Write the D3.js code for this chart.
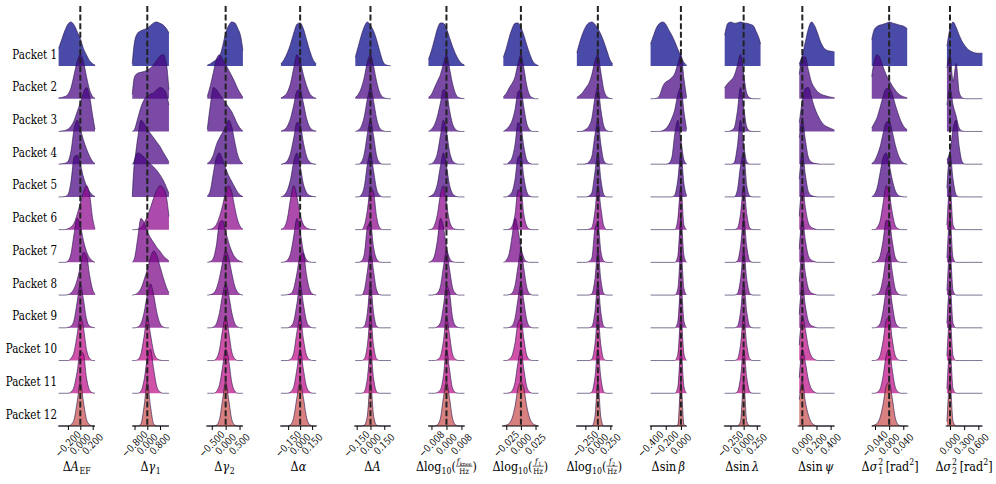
<!DOCTYPE html>
<html>
<head>
<meta charset="utf-8">
<script src="https://cdn.jsdelivr.net/npm/d3@7"></script>
<style>
  body { margin: 0; background: #fff; }
</style>
</head>
<body>
<script>
// ---- data -------------------------------------------------------------
const packets = d3.range(1, 13).map(i => `Packet ${i}`);

// observed colour of each packet (as seen over white)
const packetColors = ["#4a4aa8", "#7a4aa4", "#7a4aa4", "#7a4aa4", "#7a4aa4", "#ac4cac",
                      "#9c48a8", "#a04aa8", "#a44aa8", "#d052a8", "#d052a8", "#d88080"];

// x-domain shown by each small axis
const domains = [[-0.355, 0.237], [-0.945, 1.361], [-0.70, 0.621], [-0.25, 0.209],
                 [-0.178, 0.221], [-0.00981, 0.00976], [-0.0323, 0.0304], [-0.438, 0.296],
                 [-0.409, 0.075], [-0.376, 0.321], [-0.064, 0.455], [-0.0492, 0.0546], [-0.091, 0.686]];

// density sample grid: [step, points left of 0, points right of 0]
const grids = [[0.05, 7, 5], [0.2, 5, 7], [0.11, 6, 6], [0.04, 6, 5], [0.033, 5, 7],
               [0.0016, 6, 6], [0.005, 6, 6], [0.06, 7, 5], [0.04, 10, 2], [0.06, 6, 6],
               [0.043, 1, 11], [0.0085, 6, 6], [0.065, 1, 11]];

const tickValues = [[-0.2, 0, 0.2], [-0.8, 0, 0.8], [-0.5, 0, 0.5], [-0.15, 0, 0.15],
                    [-0.15, 0, 0.15], [-0.008, 0, 0.008], [-0.025, 0, 0.025], [-0.25, 0, 0.25],
                    [-0.4, -0.2, 0], [-0.25, 0, 0.25], [0, 0.2, 0.4], [-0.04, 0, 0.04], [0, 0.3, 0.6]];

// relative density (peak = 100) per packet, sampled on the grid of each column
const densAEF = [
  [40, 60, 80, 95, 100, 93, 78, 62, 40, 25, 12, 5, 2],
  [2, 3, 5, 10, 25, 55, 85, 100, 85, 50, 20, 5, 1],
  [0, 1, 2, 5, 12, 25, 45, 65, 88, 100, 80, 35, 5],
  [0, 1, 2, 6, 30, 80, 100, 80, 55, 35, 18, 6, 1],
  [0, 0, 1, 5, 35, 90, 95, 75, 45, 25, 12, 4, 1],
  [0, 0, 0, 2, 6, 15, 35, 60, 85, 100, 80, 25, 2],
  [0, 0, 0, 3, 20, 65, 100, 85, 50, 25, 10, 3, 0],
  [0, 0, 0, 1, 5, 15, 35, 65, 97, 90, 45, 12, 2],
  [0, 0, 0, 1, 4, 18, 60, 100, 65, 20, 4, 1, 0],
  [0, 0, 0, 0, 5, 20, 60, 100, 75, 25, 5, 0, 0],
  [0, 0, 0, 0, 3, 15, 50, 95, 90, 35, 7, 1, 0],
  [0, 0, 0, 0, 3, 15, 55, 100, 55, 15, 3, 0, 0]
];
const densGamma1 = [
  [5, 55, 75, 80, 83, 86, 92, 98, 100, 97, 93, 85, 75],
  [10, 50, 58, 60, 62, 65, 70, 78, 88, 97, 100, 80, 20],
  [0, 5, 30, 55, 72, 80, 85, 88, 95, 100, 97, 85, 60],
  [0, 10, 60, 100, 92, 80, 70, 60, 50, 40, 27, 15, 5],
  [0, 80, 100, 97, 90, 82, 75, 68, 60, 50, 38, 22, 8],
  [0, 0, 1, 5, 15, 30, 50, 72, 90, 100, 95, 75, 30],
  [0, 10, 55, 100, 90, 70, 56, 45, 34, 25, 15, 8, 3],
  [0, 1, 5, 15, 35, 58, 85, 100, 90, 65, 40, 18, 5],
  [0, 0, 2, 10, 35, 75, 100, 75, 35, 10, 2, 0, 0],
  [0, 0, 2, 15, 55, 100, 60, 20, 5, 1, 0, 0, 0],
  [0, 0, 0, 5, 30, 80, 100, 55, 15, 3, 0, 0, 0],
  [0, 0, 0, 5, 45, 100, 45, 5, 0, 0, 0, 0, 0]
];
const densGamma2 = [
  [2, 5, 10, 15, 22, 45, 75, 92, 100, 98, 85, 65, 35],
  [5, 30, 60, 90, 100, 90, 78, 65, 52, 38, 22, 10, 3],
  [5, 60, 100, 95, 85, 75, 65, 55, 45, 30, 15, 5, 1],
  [2, 8, 22, 45, 60, 72, 85, 100, 85, 50, 20, 5, 1],
  [2, 15, 55, 90, 100, 85, 65, 48, 35, 22, 10, 3, 1],
  [0, 1, 4, 12, 30, 55, 85, 100, 85, 50, 20, 5, 1],
  [0, 2, 10, 40, 90, 95, 70, 45, 25, 12, 5, 2, 0],
  [0, 1, 4, 15, 40, 75, 100, 85, 50, 20, 6, 1, 0],
  [0, 0, 2, 10, 35, 75, 100, 75, 35, 10, 2, 0, 0],
  [0, 0, 0, 5, 25, 70, 100, 65, 20, 4, 0, 0, 0],
  [0, 0, 0, 4, 20, 60, 100, 75, 25, 5, 0, 0, 0],
  [0, 0, 0, 2, 15, 60, 100, 60, 15, 2, 0, 0, 0]
];
const densAlpha = [
  [5, 15, 30, 50, 75, 95, 98, 85, 60, 35, 15, 5],
  [2, 6, 15, 35, 70, 100, 85, 55, 30, 12, 4, 1],
  [1, 4, 12, 30, 60, 92, 95, 65, 30, 10, 3, 1],
  [0, 2, 8, 25, 60, 95, 90, 50, 18, 5, 1, 0],
  [0, 4, 15, 40, 80, 100, 70, 30, 10, 3, 1, 0],
  [1, 5, 25, 70, 100, 75, 35, 12, 4, 1, 0, 0],
  [0, 1, 5, 20, 60, 100, 70, 25, 6, 1, 0, 0],
  [0, 0, 1, 3, 15, 50, 90, 95, 45, 12, 2, 0],
  [0, 0, 0, 3, 15, 55, 100, 55, 15, 3, 0, 0],
  [0, 0, 0, 3, 18, 65, 100, 50, 12, 2, 0, 0],
  [0, 0, 0, 3, 15, 55, 100, 55, 15, 3, 0, 0],
  [0, 0, 0, 3, 20, 65, 100, 65, 20, 3, 0, 0]
];
const densA = [
  [20, 45, 70, 90, 100, 92, 80, 60, 35, 12, 3, 1, 0],
  [3, 10, 25, 50, 85, 100, 75, 40, 15, 4, 1, 0, 0],
  [0, 3, 12, 35, 75, 100, 70, 30, 8, 2, 0, 0, 0],
  [0, 0, 5, 25, 70, 100, 65, 20, 4, 0, 0, 0, 0],
  [0, 0, 5, 25, 75, 100, 60, 18, 4, 0, 0, 0, 0],
  [0, 0, 0, 10, 45, 95, 85, 30, 5, 0, 0, 0, 0],
  [0, 0, 3, 20, 80, 90, 35, 8, 1, 0, 0, 0, 0],
  [0, 0, 0, 12, 55, 100, 55, 12, 1, 0, 0, 0, 0],
  [0, 0, 0, 4, 35, 100, 35, 4, 0, 0, 0, 0, 0],
  [0, 0, 0, 4, 35, 100, 35, 4, 0, 0, 0, 0, 0],
  [0, 0, 0, 4, 35, 100, 35, 4, 0, 0, 0, 0, 0],
  [0, 0, 0, 2, 25, 100, 25, 2, 0, 0, 0, 0, 0]
];
const densFknee = [
  [15, 35, 60, 85, 98, 97, 85, 65, 45, 28, 15, 6, 2],
  [3, 10, 25, 40, 55, 80, 100, 70, 35, 12, 3, 1, 0],
  [0, 5, 15, 35, 65, 95, 90, 50, 18, 5, 1, 0, 0],
  [0, 1, 8, 25, 65, 100, 75, 30, 8, 2, 0, 0, 0],
  [0, 3, 10, 30, 70, 100, 70, 28, 8, 2, 0, 0, 0],
  [0, 1, 10, 35, 80, 100, 60, 20, 5, 1, 0, 0, 0],
  [0, 3, 15, 50, 100, 80, 35, 10, 2, 0, 0, 0, 0],
  [0, 0, 1, 5, 20, 65, 100, 60, 18, 4, 0, 0, 0],
  [0, 0, 0, 3, 12, 50, 95, 80, 25, 5, 1, 0, 0],
  [0, 0, 0, 2, 10, 45, 100, 60, 15, 3, 0, 0, 0],
  [0, 0, 0, 2, 8, 40, 100, 55, 12, 2, 0, 0, 0],
  [0, 0, 0, 3, 18, 65, 100, 65, 18, 3, 0, 0, 0]
];
const densF1 = [
  [20, 40, 65, 85, 97, 98, 88, 70, 48, 28, 12, 4, 1],
  [5, 12, 25, 35, 50, 80, 100, 70, 30, 8, 2, 0, 0],
  [0, 5, 12, 25, 50, 90, 95, 55, 18, 4, 0, 0, 0],
  [0, 0, 5, 15, 45, 95, 85, 40, 10, 2, 0, 0, 0],
  [0, 0, 4, 12, 40, 90, 95, 45, 12, 2, 0, 0, 0],
  [0, 0, 1, 8, 35, 90, 90, 35, 8, 1, 0, 0, 0],
  [0, 5, 20, 60, 100, 75, 35, 10, 2, 0, 0, 0, 0],
  [0, 0, 1, 5, 22, 65, 100, 60, 18, 3, 0, 0, 0],
  [0, 0, 1, 5, 22, 65, 100, 60, 18, 3, 0, 0, 0],
  [0, 0, 3, 12, 40, 85, 95, 50, 12, 2, 0, 0, 0],
  [0, 0, 1, 6, 25, 70, 100, 55, 15, 3, 0, 0, 0],
  [0, 2, 6, 18, 45, 85, 100, 85, 45, 18, 6, 2, 0]
];
const densF2 = [
  [30, 55, 75, 90, 98, 100, 95, 85, 72, 55, 35, 15, 5],
  [3, 8, 15, 25, 35, 55, 85, 100, 60, 20, 5, 1, 0],
  [0, 0, 1, 5, 12, 30, 75, 100, 50, 12, 2, 0, 0],
  [0, 0, 0, 1, 5, 18, 65, 100, 45, 8, 1, 0, 0],
  [0, 0, 0, 0, 2, 10, 55, 100, 40, 5, 0, 0, 0],
  [0, 0, 0, 0, 1, 5, 40, 100, 50, 8, 0, 0, 0],
  [0, 0, 0, 0, 2, 10, 75, 90, 25, 3, 0, 0, 0],
  [0, 0, 0, 0, 0, 3, 35, 100, 35, 3, 0, 0, 0],
  [0, 0, 0, 0, 0, 3, 35, 100, 35, 3, 0, 0, 0],
  [0, 0, 0, 0, 0, 3, 35, 100, 35, 3, 0, 0, 0],
  [0, 0, 0, 0, 0, 3, 35, 100, 35, 3, 0, 0, 0],
  [0, 0, 0, 0, 0, 0, 20, 100, 20, 0, 0, 0, 0]
];
const densSinBeta = [
  [50, 70, 88, 97, 100, 95, 82, 70, 55, 38, 22, 8, 2],
  [0, 0, 1, 8, 28, 38, 42, 48, 58, 80, 100, 45, 3],
  [0, 0, 0, 0, 2, 6, 15, 30, 50, 85, 100, 45, 5],
  [0, 0, 0, 0, 0, 0, 2, 15, 70, 100, 55, 10, 1],
  [0, 0, 0, 0, 0, 0, 0, 0, 5, 40, 100, 30, 2],
  [0, 0, 0, 0, 0, 0, 0, 0, 0, 25, 100, 10, 0],
  [0, 0, 0, 0, 0, 0, 0, 0, 0, 15, 100, 15, 0],
  [0, 0, 0, 0, 0, 0, 0, 0, 0, 15, 100, 15, 0],
  [0, 0, 0, 0, 0, 0, 0, 0, 0, 15, 100, 15, 0],
  [0, 0, 0, 0, 0, 0, 0, 0, 0, 15, 100, 15, 0],
  [0, 0, 0, 0, 0, 0, 0, 0, 0, 15, 100, 15, 0],
  [0, 0, 0, 0, 0, 0, 0, 0, 0, 3, 100, 3, 0]
];
const densSinLambda = [
  [70, 97, 100, 97, 98, 100, 98, 97, 95, 92, 78, 60, 50],
  [25, 35, 42, 52, 75, 100, 55, 12, 2, 0, 0, 0, 0],
  [0, 0, 2, 8, 45, 100, 55, 10, 1, 0, 0, 0, 0],
  [0, 0, 0, 3, 40, 100, 45, 5, 0, 0, 0, 0, 0],
  [0, 0, 0, 0, 15, 70, 100, 25, 2, 0, 0, 0, 0],
  [0, 0, 0, 0, 3, 35, 100, 35, 3, 0, 0, 0, 0],
  [0, 0, 0, 0, 3, 35, 100, 35, 3, 0, 0, 0, 0],
  [0, 0, 0, 0, 3, 35, 100, 35, 3, 0, 0, 0, 0],
  [0, 0, 0, 0, 3, 35, 100, 35, 3, 0, 0, 0, 0],
  [0, 0, 0, 0, 3, 35, 100, 35, 3, 0, 0, 0, 0],
  [0, 0, 0, 0, 3, 35, 100, 35, 3, 0, 0, 0, 0],
  [0, 0, 0, 0, 0, 10, 100, 10, 0, 0, 0, 0, 0]
];
const densSinPsi = [
  [5, 25, 55, 85, 100, 92, 75, 55, 42, 36, 34, 33, 32],
  [55, 95, 95, 65, 38, 25, 16, 11, 8, 6, 4, 3, 2],
  [20, 70, 98, 100, 78, 55, 38, 25, 16, 11, 8, 5, 3],
  [60, 100, 55, 15, 5, 2, 1, 0, 0, 0, 0, 0, 0],
  [40, 100, 50, 12, 3, 1, 0, 0, 0, 0, 0, 0, 0],
  [30, 100, 50, 15, 5, 2, 0, 0, 0, 0, 0, 0, 0],
  [30, 100, 50, 15, 5, 2, 0, 0, 0, 0, 0, 0, 0],
  [30, 100, 50, 15, 5, 2, 0, 0, 0, 0, 0, 0, 0],
  [30, 100, 50, 15, 5, 2, 0, 0, 0, 0, 0, 0, 0],
  [35, 100, 70, 30, 10, 3, 0, 0, 0, 0, 0, 0, 0],
  [35, 100, 70, 30, 10, 3, 0, 0, 0, 0, 0, 0, 0],
  [60, 100, 55, 25, 8, 2, 0, 0, 0, 0, 0, 0, 0]
];
const densSigma1 = [
  [60, 82, 90, 93, 95, 97, 100, 98, 96, 94, 92, 90, 85],
  [50, 85, 100, 92, 72, 55, 42, 30, 20, 12, 7, 4, 2],
  [8, 18, 32, 55, 80, 97, 98, 85, 62, 40, 22, 10, 4],
  [2, 6, 20, 40, 70, 95, 98, 75, 45, 22, 8, 2, 0],
  [0, 5, 20, 55, 90, 100, 75, 40, 15, 4, 1, 0, 0],
  [0, 0, 5, 20, 60, 100, 85, 40, 10, 2, 0, 0, 0],
  [0, 0, 3, 15, 50, 95, 95, 50, 12, 2, 0, 0, 0],
  [0, 0, 2, 10, 40, 85, 100, 55, 15, 3, 0, 0, 0],
  [0, 0, 2, 10, 40, 85, 100, 55, 15, 3, 0, 0, 0],
  [0, 0, 2, 12, 45, 90, 100, 50, 12, 2, 0, 0, 0],
  [0, 0, 2, 10, 40, 85, 100, 55, 15, 3, 0, 0, 0],
  [0, 2, 6, 20, 50, 90, 100, 65, 20, 3, 0, 0, 0]
];
const densSigma2 = [
  [45, 85, 100, 88, 70, 55, 45, 37, 33, 30, 29, 29, 29],
  [70, 100, 40, 80, 15, 2, 0, 0, 0, 0, 0, 0, 0],
  [60, 100, 60, 35, 8, 1, 0, 0, 0, 0, 0, 0, 0],
  [10, 30, 80, 100, 40, 5, 0, 0, 0, 0, 0, 0, 0],
  [20, 100, 40, 5, 0, 0, 0, 0, 0, 0, 0, 0, 0],
  [10, 100, 10, 0, 0, 0, 0, 0, 0, 0, 0, 0, 0],
  [10, 100, 10, 0, 0, 0, 0, 0, 0, 0, 0, 0, 0],
  [10, 100, 10, 0, 0, 0, 0, 0, 0, 0, 0, 0, 0],
  [10, 100, 10, 0, 0, 0, 0, 0, 0, 0, 0, 0, 0],
  [10, 100, 10, 0, 0, 0, 0, 0, 0, 0, 0, 0, 0],
  [10, 100, 10, 0, 0, 0, 0, 0, 0, 0, 0, 0, 0],
  [10, 100, 10, 0, 0, 0, 0, 0, 0, 0, 0, 0, 0]
];

// axis labels, as runs of text: i = italic, sub / sup = index, frac = [num, den]
const paramLabels = [
  [{t: "Δ"}, {t: "A", i: 1}, {t: "EF", sub: 1}],
  [{t: "Δ"}, {t: "γ", i: 1}, {t: "1", sub: 1}],
  [{t: "Δ"}, {t: "γ", i: 1}, {t: "2", sub: 1}],
  [{t: "Δ"}, {t: "α", i: 1}],
  [{t: "Δ"}, {t: "A", i: 1}],
  [{t: "Δlog"}, {t: "10", sub: 1}, {t: "("}, {frac: [[{t: "f", i: 1}, {t: "knee", sub: 1}], [{t: "Hz"}]]}, {t: ")"}],
  [{t: "Δlog"}, {t: "10", sub: 1}, {t: "("}, {frac: [[{t: "f", i: 1}, {t: "1", sub: 1}], [{t: "Hz"}]]}, {t: ")"}],
  [{t: "Δlog"}, {t: "10", sub: 1}, {t: "("}, {frac: [[{t: "f", i: 1}, {t: "2", sub: 1}], [{t: "Hz"}]]}, {t: ")"}],
  [{t: "Δsin\u2009"}, {t: "β", i: 1}],
  [{t: "Δsin\u2009"}, {t: "λ", i: 1}],
  [{t: "Δsin\u2009"}, {t: "ψ", i: 1}],
  [{t: "Δ"}, {t: "σ", supsub: ["2", "1"]}, {t: "[rad"}, {t: "2", sup: 1}, {t: "]"}],
  [{t: "Δ"}, {t: "σ", supsub: ["2", "2"]}, {t: "[rad"}, {t: "2", sup: 1}, {t: "]"}]
];

const densities = [densAEF, densGamma1, densGamma2, densAlpha, densA, densFknee, densF1,
                   densF2, densSinBeta, densSinLambda, densSinPsi, densSigma1, densSigma2];

// ---- layout -----------------------------------------------------------
const width = 996, height = 484;
const colLeft = 58.3, colGap = 73.95, colWidth = 36.7;
const ridgeHeight = 44;
const alpha = 0.72;
const serif = "DejaVu Serif";
const squeeze = 0.86;   // DejaVu Serif is wider than the original serif

const svg = d3.select("body").append("svg")
    .attr("width", width)
    .attr("height", height)
    .attr("font-family", serif);

const rowY = d3.scaleLinear().domain([0, 11]).range([66, 426]);
const hScale = d3.scaleLinear().domain([0, 100]).range([0, ridgeHeight]);

// fill colour whose translucent paint gives the observed colour on white
const baseColor = c => {
  const o = d3.rgb(c);
  const f = v => Math.max(0, Math.min(255, (v - 255 * (1 - alpha)) / alpha));
  return d3.rgb(f(o.r), f(o.g), f(o.b)).formatHex();
};

const fmt = v => d3.format(".3f")(v).replace("-", "\u2212");

densities.forEach((dens, c) => {
  const x0 = colLeft + c * colGap;
  const x = d3.scaleLinear().domain(domains[c]).range([x0, x0 + colWidth]).clamp(true);
  const [step, nL, nR] = grids[c];
  const grid = d3.range(-nL, nR + 1).map(k => k * step);
  const g = svg.append("g");

  dens.forEach((vals, r) => {
    const base = rowY(r);
    const pts = vals.map((v, k) => [grid[k], v]);
    const area = d3.area()
        .x(d => x(d[0]))
        .y0(base)
        .y1(d => base - hScale(d[1]))
        .curve(d3.curveMonotoneX);
    const line = d3.line()
        .x(d => x(d[0]))
        .y(d => base - hScale(d[1]))
        .curve(d3.curveMonotoneX);
    g.append("path")
        .attr("d", area(pts))
        .attr("fill", baseColor(packetColors[r]))
        .attr("fill-opacity", alpha);
    g.append("path")
        .attr("d", line(pts))
        .attr("fill", "none")
        .attr("stroke", "#24104a")
        .attr("stroke-opacity", 0.75)
        .attr("stroke-width", 0.8);
  });

  // dashed zero line
  g.append("line")
      .attr("x1", x(0)).attr("x2", x(0))
      .attr("y1", 6).attr("y2", rowY(11))
      .attr("stroke", "#222")
      .attr("stroke-width", 2)
      .attr("stroke-dasharray", "6,2.6");

  // bottom axis
  const ax = g.append("g")
      .attr("transform", `translate(0,${rowY(11)})`)
      .call(d3.axisBottom(x).tickValues(tickValues[c]).tickSize(4).tickFormat(""));
  ax.select(".domain").attr("stroke", "#000").attr("stroke-width", 1.2)
      .attr("d", `M${x0},0H${x0 + colWidth}`);
  ax.selectAll(".tick line").attr("stroke", "#000").attr("stroke-width", 1);

  // rotated tick labels, centred under their tick
  g.selectAll("text.tl")
      .data(tickValues[c])
      .join("text")
      .attr("class", "tl")
      .attr("transform", d => `translate(${x(d)},${rowY(11) + 18}) rotate(-45) scale(${squeeze},1)`)
      .attr("text-anchor", "middle")
      .attr("dy", "0.35em")
      .attr("font-family", serif)
      .attr("font-size", 10)
      .text(fmt);

  // parameter label
  const lab = g.append("g");
  drawRuns(lab, paramLabels[c], 0, 0, 13);
  const bb = lab.node().getBBox();
  lab.attr("transform",
      `translate(${x0 + colWidth / 2},470.5) scale(${squeeze},1) translate(${-bb.x - bb.width / 2},0)`);
});

// packet labels
svg.append("g")
  .selectAll("text")
  .data(packets)
  .join("text")
    .attr("transform", (d, i) => `translate(57,${rowY(i) - 7.5}) scale(${squeeze},1)`)
    .attr("text-anchor", "end")
    .attr("font-family", serif)
    .attr("font-size", 12)
    .text(d => d);

// ---- math-ish label drawing ----------------------------------------------
function drawRuns(g, runs, x, y, size) {
  let cx = x;
  runs.forEach(r => {
    if (r.frac) {
      const s = size * 0.62;
      const num = g.append("g"), den = g.append("g");
      const wn = drawRuns(num, r.frac[0], 0, 0, s);
      const wd = drawRuns(den, r.frac[1], 0, 0, s);
      const w = Math.max(wn, wd) + 2;
      num.attr("transform", `translate(${cx + (w - wn) / 2},${y - 6.3})`);
      den.attr("transform", `translate(${cx + (w - wd) / 2},${y + 3.8})`);
      g.append("line")
          .attr("x1", cx).attr("x2", cx + w)
          .attr("y1", y - 4.3).attr("y2", y - 4.3)
          .attr("stroke", "#000").attr("stroke-width", 0.6);
      cx += w;
    } else if (r.supsub) {
      // italic symbol with stacked super- and subscript, all in one text element
      const s = size * 0.7;
      const t = g.append("text").attr("font-family", serif).attr("font-size", size);
      const sym = t.append("tspan").attr("x", cx).attr("y", y)
          .attr("font-style", "italic").text(r.t);
      const ws = sym.node().getComputedTextLength() + 1;
      const a = t.append("tspan").attr("x", cx + ws).attr("y", y - size * 0.4)
          .attr("font-size", s).text(r.supsub[0]);
      const b = t.append("tspan").attr("x", cx + ws).attr("y", y + size * 0.25)
          .attr("font-size", s).text(r.supsub[1]);
      cx += ws + Math.max(a.node().getComputedTextLength(), b.node().getComputedTextLength()) + 3;
    } else {
      const s = r.sub || r.sup ? size * 0.7 : size;
      const dy = r.sub ? size * 0.25 : r.sup ? -size * 0.4 : 0;
      const t = g.append("text").attr("x", cx).attr("y", y + dy)
          .attr("font-family", serif)
          .attr("font-size", s)
          .attr("font-style", r.i ? "italic" : null)
          .text(r.t);
      cx += t.node().getComputedTextLength() + (r.i ? 0.8 : 0);
    }
  });
  return cx - x;
}
</script>
</body>
</html>
